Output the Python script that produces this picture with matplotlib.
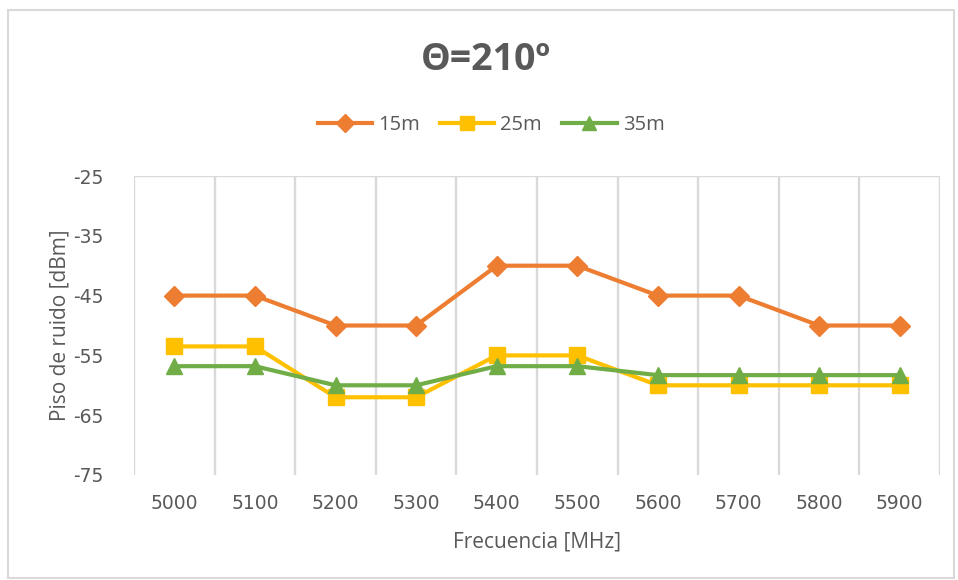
import matplotlib
matplotlib.use("Agg")
import matplotlib.pyplot as plt
from matplotlib.patches import Rectangle
from matplotlib.lines import Line2D

plt.rcParams['font.family'] = ['Open Sans', 'DejaVu Sans']
plt.rcParams['axes.unicode_minus'] = False

frequencies = ["5000", "5100", "5200", "5300", "5400", "5500", "5600", "5700", "5800", "5900"]
noise_15m = [-45, -45, -50, -50, -40, -40, -45, -45, -50, -50]
noise_25m = [-53.5, -53.5, -62, -62, -55, -55, -60, -60, -60, -60]
noise_35m = [-56.8, -56.8, -60, -60, -56.8, -56.8, -58.3, -58.3, -58.3, -58.3]
series_names = ["15m", "25m", "35m"]
y_ticks = [-75, -65, -55, -45, -35, -25]

TEXT = "#595959"
GRID = "#D9D9D9"
colors = ["#ED7D31", "#FFC000", "#70AD47"]
markers = ["D", "s", "^"]
msizes = [10, 11, 11]

fig = plt.figure(figsize=(9.58, 5.80), dpi=100)
fig.patch.set_facecolor("white")
# outer chart frame
fig.add_artist(Rectangle((8 / 958, 2 / 580), 946 / 958, 568 / 580,
                         transform=fig.transFigure, fill=False,
                         edgecolor=GRID, linewidth=1.5))

ax = fig.add_axes([134 / 958, 1 - 475 / 580, (940 - 134) / 958, (475 - 176) / 580])
x = list(range(len(frequencies)))
series = [noise_15m, noise_25m, noise_35m]
for vals, c, m, ms, name in zip(series, colors, markers, msizes, series_names):
    ax.plot(x, vals, color=c, linewidth=3, marker=m, markersize=ms,
            markeredgecolor=c, label=name, zorder=3)

ax.set_xlim(-0.5, len(frequencies) - 0.5)
ax.set_ylim(-75, -25)
ax.set_yticks(y_ticks)
ax.set_xticks(x)
ax.set_xticklabels(frequencies)

# vertical gridlines at category boundaries
for b in range(len(frequencies) + 1):
    ax.axvline(b - 0.5, color=GRID, linewidth=1.7, zorder=1)
ax.axhline(-25, color=GRID, linewidth=1.7, zorder=1)

for s in ax.spines.values():
    s.set_visible(False)
ax.tick_params(axis="both", length=0, colors=TEXT)
for lbl in ax.get_xticklabels() + ax.get_yticklabels():
    lbl.set_fontfamily("DejaVu Sans")
    lbl.set_fontsize(13.5)
ax.tick_params(axis="x", pad=14)
ax.tick_params(axis="y", pad=22)

ax.set_xlabel("Frecuencia [MHz]", color=TEXT, fontsize=15, labelpad=13)
ax.set_ylabel("Piso de ruido [dBm]", color=TEXT, fontsize=15, labelpad=2)

fig.text(486 / 958, 1 - 60 / 580, "Θ=210º", ha="center", va="center",
         fontsize=27, fontweight="bold", color=TEXT)

handles = [Line2D([0], [0], color=c, linewidth=3, marker=m, markersize=ms - 1,
                  markeredgecolor=c) for c, m, ms in zip(colors, markers, msizes)]
fig.legend(handles, series_names, loc="center", bbox_to_anchor=(491 / 958, 1 - 125 / 580),
           ncol=3, frameon=False, fontsize=14.5, labelcolor=TEXT,
           handlelength=2.7, handletextpad=0.3, columnspacing=1.0)

fig.savefig("out.png", dpi=100)
